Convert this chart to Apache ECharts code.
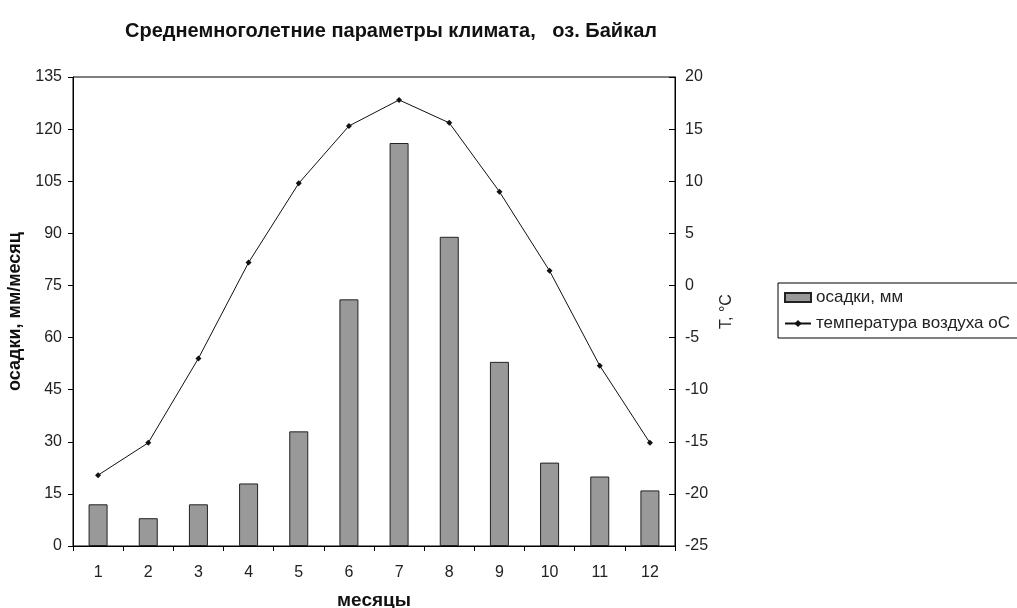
<!DOCTYPE html>
<html>
<head>
<meta charset="utf-8">
<script src="https://cdn.jsdelivr.net/npm/echarts@6/dist/echarts.min.js"></script>
<style>
  html, body { margin: 0; padding: 0; background: #fff; }
  #chart { width: 1017px; height: 608px; }
</style>
</head>
<body>
<div id="chart"></div>
<script>
// Months of the year
const months = ['1', '2', '3', '4', '5', '6', '7', '8', '9', '10', '11', '12'];
// Mean monthly precipitation, mm
const precipitation = [12, 8, 12, 18, 33, 71, 116, 89, 53, 24, 20, 16];
// Mean monthly air temperature, °C
const temperature = [-18.2, -15.1, -7.0, 2.2, 9.8, 15.3, 17.8, 15.6, 9.0, 1.4, -7.7, -15.1];

const font = 'Liberation Sans, Arial, sans-serif';

const chart = echarts.init(document.getElementById('chart'));
chart.setOption({
  backgroundColor: '#ffffff',
  animation: false,
  title: {
    text: 'Среднемноголетние параметры климата,   оз. Байкал',
    left: 386,
    textAlign: 'center',
    top: 16,
    textStyle: { fontFamily: font, fontSize: 20, fontWeight: 'bold', color: '#111' }
  },
  legend: {
    orient: 'vertical',
    left: 778,
    top: 283,
    itemGap: 9,
    itemWidth: 26,
    itemHeight: 9,
    padding: [6, 10, 6, 6],
    borderColor: '#000',
    borderWidth: 1,
    borderRadius: 0,
    textStyle: { fontFamily: font, fontSize: 17, color: '#222' },
    data: [
      { name: 'осадки, мм', icon: 'rect' },
      { name: 'температура воздуха оС' }
    ]
  },
  grid: {
    left: 73,
    right: 342,
    top: 77,
    bottom: 62,
    outerBoundsMode: 'none',
    containLabel: false,
    show: true,
    borderColor: '#000',
    borderWidth: 1,
    backgroundColor: '#fff'
  },
  xAxis: {
    type: 'category',
    data: months,
    boundaryGap: true,
    name: 'месяцы',
    nameLocation: 'middle',
    nameGap: 45,
    nameTextStyle: { fontFamily: font, fontSize: 19, fontWeight: 'bold', color: '#111' },
    axisLine: { lineStyle: { color: '#000', width: 1 } },
    axisTick: { show: true, length: 5, lineStyle: { color: '#000' } },
    axisLabel: { fontFamily: font, fontSize: 16, color: '#222', margin: 19 },
    splitLine: { show: false }
  },
  yAxis: [
    {
      type: 'value',
      min: 0,
      max: 135,
      interval: 15,
      position: 'left',
      name: 'осадки, мм/месяц',
      nameLocation: 'middle',
      nameRotate: 90,
      nameGap: 42,
      nameTextStyle: { fontFamily: font, fontSize: 18, fontWeight: 'bold', color: '#111' },
      axisLine: { show: true, lineStyle: { color: '#000', width: 1 } },
      axisTick: { show: true, length: 5, lineStyle: { color: '#000' } },
      axisLabel: { fontFamily: font, fontSize: 16, color: '#222', margin: 11 },
      splitLine: { show: false }
    },
    {
      type: 'value',
      min: -25,
      max: 20,
      interval: 5,
      position: 'right',
      name: 'Т, °С',
      nameLocation: 'middle',
      nameRotate: 90,
      nameGap: 41,
      nameTextStyle: { fontFamily: font, fontSize: 16, color: '#222' },
      axisLine: { show: true, lineStyle: { color: '#000', width: 1 } },
      axisTick: { show: true, inside: true, length: 6, lineStyle: { color: '#000' } },
      axisLabel: { fontFamily: font, fontSize: 16, color: '#222', margin: 10 },
      splitLine: { show: false }
    }
  ],
  series: [
    {
      name: 'осадки, мм',
      type: 'bar',
      yAxisIndex: 0,
      data: precipitation,
      barWidth: 19,
      itemStyle: { color: '#999999', borderColor: '#222', borderWidth: 1 }
    },
    {
      name: 'температура воздуха оС',
      type: 'line',
      yAxisIndex: 1,
      data: temperature,
      symbol: 'diamond',
      symbolSize: 6,
      lineStyle: { color: '#111', width: 1 },
      itemStyle: { color: '#111' }
    }
  ]
});
</script>
</body>
</html>
